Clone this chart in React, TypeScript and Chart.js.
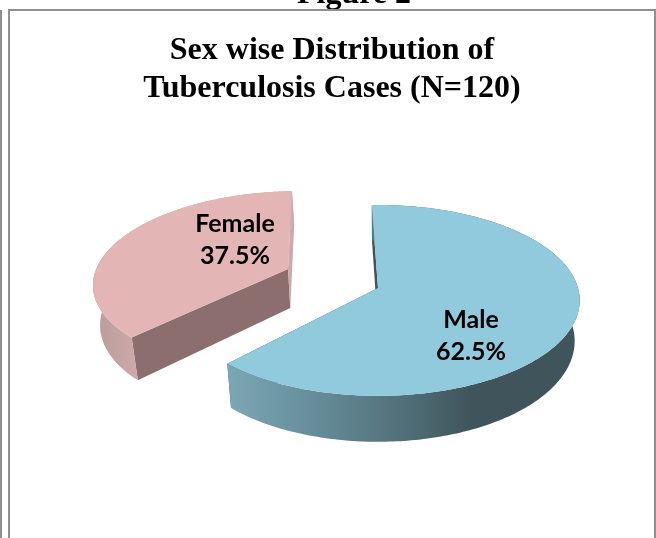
import React, { useEffect, useRef } from "react";
import { Chart, registerables } from "chart.js";

Chart.register(...registerables);

const categories = ["Male", "Female"];
const cases = [75, 45];
const titleLines = ["Sex wise Distribution of", "Tuberculosis Cases (N=120)"];
const figureCaption = "Figure 2";
const topColors = ["#91cadc", "#e3b5b5"];
const startWallColors = ["#3f555b", "#8b6e6d"];
const endWallColors = ["#3f555b", "#cfa8a8"];
const outerWallStops = [
  [[228, "#7ba7b4"], [330, "#628894"], [400, "#52717a"], [470, "#3f555b"], [580, "#3f555b"]],
  [[92, "#b99a9a"], [137, "#cfa9a9"]],
] as [number, string][][];
const sliceOffsets = [[0, 0], [-0.462, -0.208]];
const sliceRadii = [1, 0.985];
const startAngleTrim = [0, (1.5 * Math.PI) / 180];
const labelAnchors = [[471, 335], [235, 239]];

// Tilted-disc projection of the pie, applied to the angles the pie controller computes.
const CX = 378, CY = 288, RX = 200, RY = 93.8, K = 0.13, DEPTH = 40, TAPER = 0.025;
const project = (u: number, v: number, z: number): [number, number] => {
  const w = 1 - K * v;
  return [CX + (RX * u * (1 - TAPER * z)) / w, CY + (RY * v + DEPTH * z) / w];
};

const threeD = {
  id: "threeD",
  beforeDatasetDraw(chart: any) {
    const ctx = chart.ctx;
    chart.getDatasetMeta(0).data.forEach((arc: any, i: number) => {
      const props = arc.getProps(["startAngle", "endAngle"], true);
      const startAngle = props.startAngle + startAngleTrim[i];
      const endAngle = props.endAngle;
      const [ou, ov] = sliceOffsets[i];
      const r = sliceRadii[i];
      const pt = (a: number | null, z: number) =>
        a === null ? project(ou, ov, z) : project(ou + r * Math.cos(a), ov + r * Math.sin(a), z);
      const steps = 240;
      const rim = (z: number) => {
        const out: [number, number][] = [];
        for (let s = 0; s <= steps; s++) out.push(pt(startAngle + ((endAngle - startAngle) * s) / steps, z));
        return out;
      };
      const fillPoly = (pts: [number, number][], fill: any) => {
        ctx.beginPath();
        pts.forEach((p, n) => (n ? ctx.lineTo(p[0], p[1]) : ctx.moveTo(p[0], p[1])));
        ctx.closePath();
        ctx.fillStyle = fill;
        ctx.fill();
      };
      const stops = outerWallStops[i];
      const x0 = stops[0][0] as number, x1 = stops[stops.length - 1][0] as number;
      const grad = ctx.createLinearGradient(x0, 0, x1, 0);
      stops.forEach(([x, c]) => grad.addColorStop(((x as number) - x0) / (x1 - x0), c as string));
      fillPoly([pt(null, 0), pt(startAngle, 0), pt(startAngle, 1), pt(null, 1)], startWallColors[i]);
      fillPoly([pt(null, 0), pt(endAngle, 0), pt(endAngle, 1), pt(null, 1)], endWallColors[i]);
      fillPoly([...rim(0), ...rim(1).reverse()], grad);
      fillPoly([pt(null, 0), ...rim(0)], topColors[i]);
    });
    return false;
  },
  afterDraw(chart: any) {
    const ctx = chart.ctx;
    const total = cases.reduce((a, b) => a + b, 0);
    ctx.save();
    ctx.fillStyle = "#000";
    ctx.textAlign = "center";
    ctx.textBaseline = "middle";
    ctx.font = "bold 25px Lato";
    categories.forEach((name, i) => {
      const [x, y] = labelAnchors[i];
      ctx.fillText(name, x, y - 15);
      ctx.fillText(((cases[i] / total) * 100).toFixed(1) + "%", x, y + 17);
    });
    ctx.textBaseline = "alphabetic";
    ctx.font = "bold 32px 'Liberation Serif'";
    ctx.fillText(figureCaption, 354, 3);
    ctx.fillStyle = "#8f8f8f";
    ctx.fillRect(0, 10, 2, 528);
    ctx.fillRect(8, 9, 2, 529);
    ctx.fillRect(8, 9, 648, 2);
    ctx.fillRect(654, 9, 2, 529);
    ctx.restore();
  },
};

export default function App() {
  const ref = useRef<HTMLCanvasElement>(null);
  useEffect(() => {
    document.body.style.margin = "0";
    const chart = new Chart(ref.current!, {
      type: "pie",
      data: { labels: categories, datasets: [{ data: cases, backgroundColor: topColors, borderWidth: 0 }] },
      options: {
        responsive: false,
        animation: false,
        rotation: -2,
        layout: { padding: { left: 8 } },
        plugins: {
          legend: { display: false },
          tooltip: { enabled: false },
          title: {
            display: true,
            text: titleLines,
            color: "#000",
            font: { family: "'Liberation Serif'", weight: "bold", size: 32, lineHeight: 1.18 },
            padding: { top: 32, bottom: 10 },
          },
        },
      },
      plugins: [threeD],
    } as any);
    return () => chart.destroy();
  }, []);
  return (
    <div style={{ position: "absolute", left: 0, top: 0, width: 656, height: 538, overflow: "hidden", background: "#fff" }}>
      <canvas ref={ref} width={656} height={538} style={{ display: "block" }} />
    </div>
  );
}
